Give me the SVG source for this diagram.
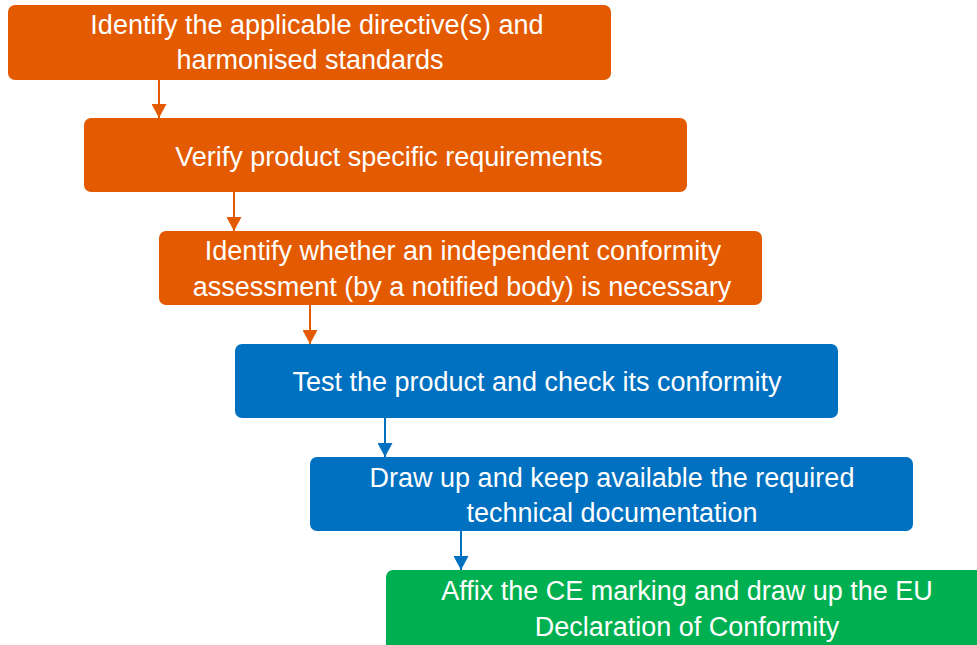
<svg xmlns="http://www.w3.org/2000/svg" width="977" height="645" viewBox="0 0 977 645">
<style>
.box{stroke:none}
.o{fill:#E45A00}
.b{fill:#0070C0}
.g{fill:#00B050}
text{font-family:"Liberation Sans",Arial,sans-serif;font-size:27px;fill:#FFFFFF;text-anchor:middle}
.co{stroke:#E45A00;stroke-width:2;fill:none}
.cb{stroke:#0070C0;stroke-width:2;fill:none}
</style>
<defs>
<marker id="ao" markerWidth="14" markerHeight="15" refX="14" refY="7.5" orient="auto" markerUnits="userSpaceOnUse"><path d="M0,0 L14,7.5 L0,15 Z" fill="#E45A00"/></marker>
<marker id="ab" markerWidth="14" markerHeight="15" refX="14" refY="7.5" orient="auto" markerUnits="userSpaceOnUse"><path d="M0,0 L14,7.5 L0,15 Z" fill="#0070C0"/></marker>
</defs>
<g id="connectors">
<line class="co" x1="159" y1="80" x2="159" y2="118" marker-end="url(#ao)"/>
<line class="co" x1="234" y1="192" x2="234" y2="231" marker-end="url(#ao)"/>
<line class="co" x1="310" y1="305" x2="310" y2="344" marker-end="url(#ao)"/>
<line class="cb" x1="385" y1="418" x2="385" y2="457" marker-end="url(#ab)"/>
<line class="cb" x1="461" y1="531" x2="461" y2="570" marker-end="url(#ab)"/>
</g>
<g id="n1">
<rect class="box o" x="8" y="5" width="603" height="75" rx="7"/>
<text x="317" y="34">Identify the applicable directive(s) and</text>
<text x="310" y="69">harmonised standards</text>
</g>
<g id="n2">
<rect class="box o" x="84" y="118" width="603" height="74" rx="7"/>
<text x="389" y="166">Verify product specific requirements</text>
</g>
<g id="n3">
<rect class="box o" x="159" y="231" width="603" height="74" rx="7"/>
<text x="463" y="260">Identify whether an independent conformity</text>
<text x="462" y="296">assessment (by a notified body) is necessary</text>
</g>
<g id="n4">
<rect class="box b" x="235" y="344" width="603" height="74" rx="7"/>
<text x="537" y="391">Test the product and check its conformity</text>
</g>
<g id="n5">
<rect class="box b" x="310" y="457" width="603" height="74" rx="7"/>
<text x="612" y="487">Draw up and keep available the required</text>
<text x="612" y="522">technical documentation</text>
</g>
<g id="n6">
<rect class="box g" x="386" y="570" width="603" height="82" rx="7"/>
<text x="687" y="600">Affix the CE marking and draw up the EU</text>
<text x="687" y="636">Declaration of Conformity</text>
</g>
</svg>
